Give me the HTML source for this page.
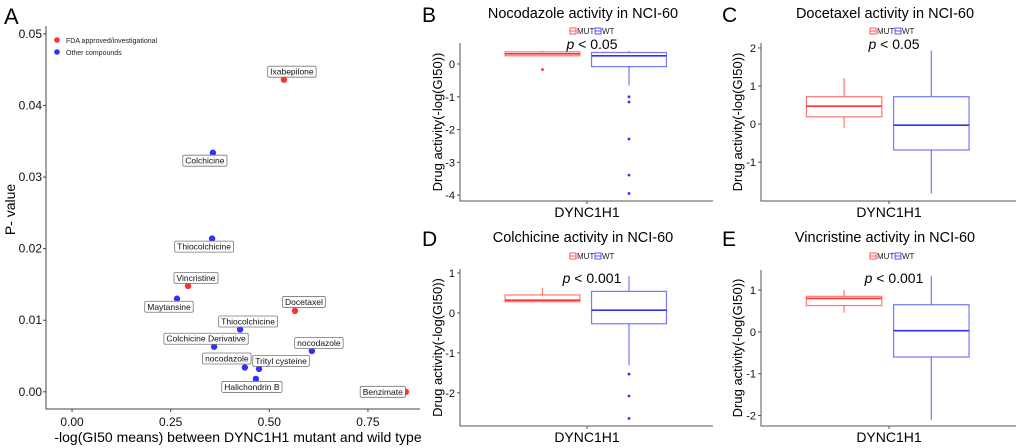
<!DOCTYPE html>
<html><head><meta charset="utf-8"><style>
html,body{margin:0;padding:0;background:#fff;}
svg{display:block;font-family:"Liberation Sans",Arial,sans-serif;}
</style></head><body>
<svg id="fig" width="1020" height="448" viewBox="0 0 1020 448"></svg>
<script>
// ---------- Panel A data ----------
const aNames = ["Ixabepilone","Colchicine","Thiocolchicine","Vincristine","Maytansine","Docetaxel","Thiocolchicine","Colchicine Derivative","nocodazole","nocodazole","Trityl cysteine","Halichondrin B","Benzimate"];
const aX = [0.537,0.357,0.355,0.294,0.266,0.565,0.426,0.360,0.608,0.438,0.474,0.466,0.846];
const aY = [0.0436,0.0334,0.0214,0.0148,0.0130,0.0113,0.0087,0.0063,0.0057,0.0034,0.0032,0.0018,0.0000];
const aFDA = [1,0,0,1,0,1,0,0,0,0,0,0,1];
const aLabelDx = [8,-8,-8,8,-8,9,8,-8,7,-18,22,-4,-23];
const aLabelDy = [-8,8,8,-8,8,-9,-8,-8,-8,-9,-8,8,0];
const aXTicks = [0,0.25,0.5,0.75];
const aXTickLabels = ["0.00","0.25","0.50","0.75"];
const aYTicks = [0,0.01,0.02,0.03,0.04,0.05];
const aYTickLabels = ["0.00","0.01","0.02","0.03","0.04","0.05"];

// ---------- Box panels data ----------
const boxLetters = ["B","C","D","E"];
const boxTitles = ["Nocodazole activity in NCI-60","Docetaxel activity in NCI-60","Colchicine activity in NCI-60","Vincristine activity in NCI-60"];
const boxPText = ["< 0.05","< 0.05","< 0.001","< 0.001"];
// [whiskerLow, q1, median, q3, whiskerHigh]
const mutStats = [[0.24,0.25,0.31,0.37,0.40],[-0.10,0.19,0.47,0.72,1.21],[0.28,0.28,0.32,0.45,0.63],[0.46,0.63,0.80,0.85,1.00]];
const wtStats = [[-0.66,-0.08,0.25,0.35,0.40],[-1.82,-0.68,-0.03,0.72,1.93],[-1.31,-0.27,0.07,0.54,0.92],[-2.10,-0.60,0.03,0.65,1.33]];
const mutOutliers = [[-0.17],[],[],[]];
const wtOutliers = [[-1.0,-1.16,-2.29,-3.39,-3.95],[],[-1.53,-2.08,-2.64],[]];
const boxYMin = [-4.18,-2.02,-2.83,-2.25];
const boxYMax = [0.64,2.13,1.1,1.48];
const boxYTicks = [[0,-1,-2,-3,-4],[2,1,0,-1],[1,0,-1,-2],[1,0,-1,-2]];

const svg = document.getElementById('fig');
const NS = 'http://www.w3.org/2000/svg';
function mk(tag, attrs, parent, text){
  const e = document.createElementNS(NS, tag);
  for (const k in attrs) e.setAttribute(k, attrs[k]);
  if (text !== undefined) e.textContent = text;
  (parent||svg).appendChild(e);
  return e;
}
const RED = '#ff3030', BLUE = '#3030ff';

// ---------- Panel A ----------
(function(){
  const g = mk('g', {});
  
  
  const L=46, R=420, T=26, B=409;
  const xMin=-0.066, xMax=0.882, yMin=-0.0024, yMax=0.0511;
  const sx = v => L + (v - xMin)/(xMax - xMin)*(R - L);
  const sy = v => B - (v - yMin)/(yMax - yMin)*(B - T);
  let t = mk('text', {x:4, y:24, 'font-size':22, fill:'#000'}, g, 'A');
   
  let ax = mk('path', {d:`M${L},${T}V${B}H${R}`, fill:'none', stroke:'#444', 'stroke-width':1}, g);
   
  aXTicks.forEach((v,i)=>{
    mk('line', {x1:sx(v), x2:sx(v), y1:B, y2:B+3, stroke:'#444'}, g);
    const tl = mk('text', {x:sx(v), y:B+17, 'font-size':12, 'text-anchor':'middle', fill:'#111'}, g, aXTickLabels[i]);
     
  });
  aYTicks.forEach((v,i)=>{
    mk('line', {x1:L-3, x2:L, y1:sy(v), y2:sy(v), stroke:'#444'}, g);
    const tl = mk('text', {x:L-4, y:sy(v)+4, 'font-size':12, 'text-anchor':'end', fill:'#111'}, g, aYTickLabels[i]);
     
  });
  let xt = mk('text', {x:(L+R)/2+5, y:442, 'font-size':14, 'text-anchor':'middle', fill:'#000'}, g, '-log(GI50 means) between DYNC1H1 mutant and wild type');
   
  let yt = mk('text', {x:0, y:0, 'font-size':14, 'text-anchor':'middle', fill:'#000', transform:`translate(15,${(T+B)/2-8}) rotate(-90)`}, g, 'P- value');
   
  const lg = mk('g', {}, g);
   
  mk('circle', {cx:57, cy:40, r:2.8, fill:RED}, lg);
  mk('text', {x:66, y:43, 'font-size':7, fill:'#222'}, lg, 'FDA approved/investigational');
  mk('circle', {cx:57, cy:52, r:2.8, fill:BLUE}, lg);
  mk('text', {x:66, y:55, 'font-size':7, fill:'#222'}, lg, 'Other compounds');
  aNames.forEach((n,i)=>{
    const px = sx(aX[i]), py = sy(aY[i]);
    const c = mk('circle', {cx:px, cy:py, r:3.2, fill:aFDA[i]?RED:BLUE}, g);
    
    
    const ly = py + aLabelDy[i];
    const cx = px + aLabelDx[i];
    const lb = mk('g', {}, g);
    
    
    const r = mk('rect', {y:ly-5.5, height:11, rx:1.5, fill:'#fff', stroke:'#777', 'stroke-width':0.8}, lb);
    const tx = mk('text', {x:cx, y:ly+3, 'font-size':8.5, 'text-anchor':'middle', fill:'#111'}, lb, n);
    const w = tx.getComputedTextLength() + 5;
    r.setAttribute('x', cx - w/2); r.setAttribute('width', w);
  });
})();

// ---------- Box panels ----------
const boxLayout = [
  {L:460,R:713,T:43,B:201,ox:420,oy:0,pY:44},
  {L:761,R:1016,T:43,B:201,ox:720,oy:0,pY:44},
  {L:460,R:713,T:269,B:426,ox:420,oy:224,pY:278},
  {L:761,R:1016,T:270,B:426,ox:720,oy:224,pY:278}
];
boxLetters.forEach((letter,k)=>{
  const lay = boxLayout[k];
  const g = mk('g', {});
  
  
  const sy = v => lay.B - (v - boxYMin[k])/(boxYMax[k]-boxYMin[k])*(lay.B - lay.T);
  const mid = (lay.L + lay.R)/2 + 0.5;
  const lt = mk('text', {x:lay.ox+2, y:lay.oy+22, 'font-size':21, fill:'#000'}, g, letter);
   
  const tt = mk('text', {x:mid-4, y:lay.oy+18, 'font-size':14.5, 'text-anchor':'middle', fill:'#000'}, g, boxTitles[k]);
   
  const lg = mk('g', {}, g);
   
  const ly = lay.oy + (k<2 ? 31 : 32);
  mk('rect', {x:lay.ox+150, y:ly-3, width:6, height:6, fill:'none', stroke:RED, 'stroke-width':0.8}, lg);
  mk('line', {x1:lay.ox+150, x2:lay.ox+156, y1:ly, y2:ly, stroke:RED, 'stroke-width':0.8}, lg);
  mk('text', {x:lay.ox+157, y:ly+3, 'font-size':8, fill:'#222'}, lg, 'MUT');
  mk('rect', {x:lay.ox+175, y:ly-3, width:6, height:6, fill:'none', stroke:BLUE, 'stroke-width':0.8}, lg);
  mk('line', {x1:lay.ox+175, x2:lay.ox+181, y1:ly, y2:ly, stroke:BLUE, 'stroke-width':0.8}, lg);
  mk('text', {x:lay.ox+182, y:ly+3, 'font-size':8, fill:'#222'}, lg, 'WT');
  const pt = mk('text', {x:mid+5, y:lay.pY+5, 'font-size':14, 'text-anchor':'middle', fill:'#000'}, g);
   
  mk('tspan', {'font-style':'italic'}, pt, 'p');
  mk('tspan', {}, pt, ' ' + boxPText[k]);
  const ax = mk('path', {d:`M${lay.L},${lay.T}V${lay.B}H${lay.R}`, fill:'none', stroke:'#555', 'stroke-width':1}, g);
   
  mk('line', {x1:mid, x2:mid, y1:lay.B, y2:lay.B+3, stroke:'#555'}, g);
  boxYTicks[k].forEach(v=>{
    mk('line', {x1:lay.L-3, x2:lay.L, y1:sy(v), y2:sy(v), stroke:'#555'}, g);
    const lab = (v < 0 ? '-' + Math.abs(v) : String(v));
    const tl = mk('text', {x:lay.L-5, y:sy(v)+4, 'font-size':11, 'text-anchor':'end', fill:'#111'}, g, lab);
     
  });
  const yl = mk('text', {x:0, y:0, 'font-size':13, 'text-anchor':'middle', fill:'#000', transform:`translate(${lay.ox+22},${(lay.T+lay.B)/2}) rotate(-90)`}, g, 'Drug activity(-log(GI50))');
   
  const xl = mk('text', {x:mid, y:lay.B+16, 'font-size':14, 'text-anchor':'middle', fill:'#000'}, g, 'DYNC1H1');
   
  const span = lay.R - lay.L;
  const groups = [
    {s:mutStats[k], o:mutOutliers[k], c:RED, cx: mid - span*0.176, name:'mut'},
    {s:wtStats[k], o:wtOutliers[k], c:BLUE, cx: mid + span*0.166, name:'wt'}
  ];
  const hw = span*0.148;
  groups.forEach(gr=>{
    const bg = mk('g', {}, g);
    
    
    const [lo,q1,md,q3,hi] = gr.s;
    mk('line', {x1:gr.cx, x2:gr.cx, y1:sy(hi), y2:sy(q3), stroke:gr.c, 'stroke-opacity':0.65, 'stroke-width':1.2}, bg);
    mk('line', {x1:gr.cx, x2:gr.cx, y1:sy(q1), y2:sy(lo), stroke:gr.c, 'stroke-opacity':0.65, 'stroke-width':1.2}, bg);
    mk('rect', {x:gr.cx-hw, y:sy(q3), width:2*hw, height:Math.max(0.5,sy(q1)-sy(q3)), fill:'#fff', stroke:gr.c, 'stroke-opacity':0.65, 'stroke-width':1.2}, bg);
    mk('line', {x1:gr.cx-hw, x2:gr.cx+hw, y1:sy(md), y2:sy(md), stroke:gr.c, 'stroke-width':1.6}, bg);
    gr.o.forEach(v=>{
      const p = mk('circle', {cx:gr.cx, cy:sy(v), r:1.4, fill:gr.c}, bg);
      
      
    });
  });
});
</script>
</body></html>
